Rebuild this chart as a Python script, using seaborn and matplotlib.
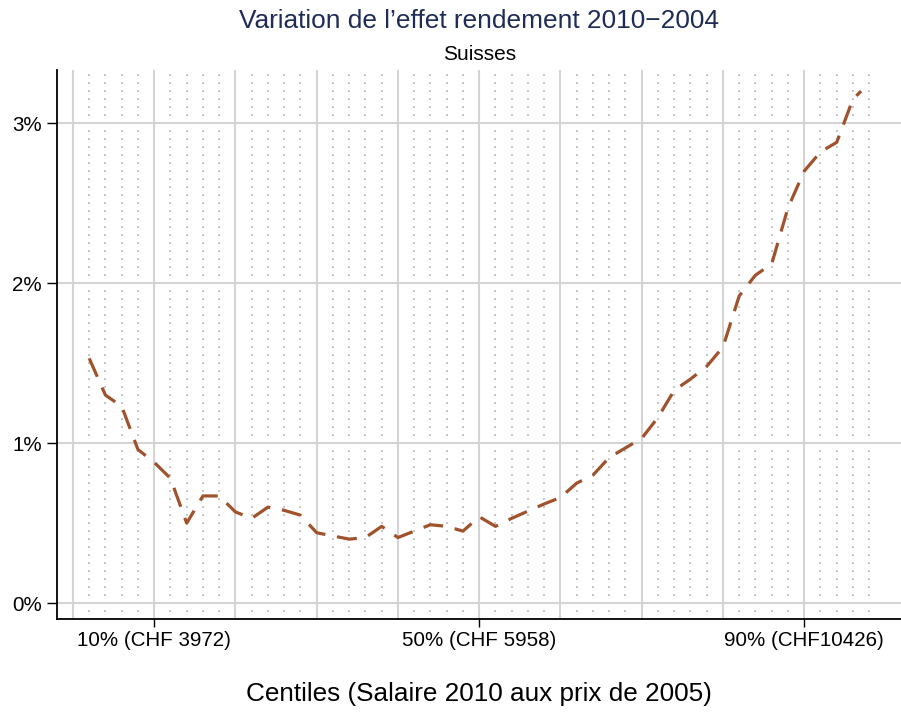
import numpy as np
import pandas as pd
import matplotlib
matplotlib.use("Agg")
import matplotlib.pyplot as plt
import seaborn as sns

# ---- data ----
centiles = [2, 4, 6, 8, 10, 12, 14, 16, 18, 20, 22, 24, 26, 28, 30, 32, 34, 36, 38, 40,
            42, 44, 46, 48, 50, 52, 54, 56, 58, 60, 62, 64, 66, 68, 70, 72, 74, 76, 78, 80,
            82, 84, 86, 88, 90, 92, 94, 96, 97]
effet = [1.53, 1.30, 1.23, 0.96, 0.88, 0.78, 0.50, 0.67, 0.67, 0.57, 0.53, 0.60, 0.58, 0.55,
         0.44, 0.42, 0.40, 0.41, 0.48, 0.41, 0.45, 0.49, 0.48, 0.45, 0.54, 0.48, 0.53, 0.575,
         0.62, 0.66, 0.75, 0.80, 0.91, 0.97, 1.03, 1.16, 1.33, 1.40, 1.48, 1.60, 1.92, 2.05,
         2.12, 2.47, 2.70, 2.82, 2.88, 3.15, 3.20]
xtick_pos = [10, 50, 90]
xtick_labels = ["10% (CHF 3972)", "50% (CHF 5958)", "90% (CHF10426)"]
ytick_pos = [0, 1, 2, 3]
ytick_labels = ["0%", "1%", "2%", "3%"]

title = "Variation de l\u2019effet rendement 2010\u22122004"
subtitle = "Suisses"
xlabel = "Centiles (Salaire 2010 aux prix de 2005)"

df = pd.DataFrame({"centile": centiles, "effet": effet})

sns.set_theme(style="white")
plt.rcParams["font.family"] = ["Liberation Sans", "DejaVu Sans"]

W, H = 901, 713
fig = plt.figure(figsize=(W / 100, H / 100), dpi=100)
px_per_x = 8.125
px_per_y = 160.0
x0, x1 = -2.0, 102.0
y0, y1 = -0.101, 3.333
left_px, bottom_px = 56.7, 713 - 619.3
ax = fig.add_axes([left_px / W, bottom_px / H,
                   (x1 - x0) * px_per_x / W, (y1 - y0) * px_per_y / H])

# background dotted lattice (minor grid)
gx = np.array([c for c in range(2, 99, 2) if c % 10 != 0])
gy = np.arange(-0.05, 3.31, 0.05)
GX, GY = np.meshgrid(gx, gy)
ax.scatter(GX.ravel(), GY.ravel(), s=1.0, marker="s", color="#c6c6c6",
           linewidths=0, zorder=0.5)

# major grid
for xv in range(0, 91, 10):
    ax.axvline(xv, color="#d4d4d4", lw=1.5, zorder=0.6)
for yv in ytick_pos:
    ax.axhline(yv, color="#d4d4d4", lw=1.5, zorder=0.6)

sns.lineplot(data=df, x="centile", y="effet", ax=ax, color="#A0522D", lw=2.3,
             linestyle=(0, (6.3, 3.7)), zorder=3)

ax.set_xlim(x0, x1)
ax.set_ylim(y0, y1)
ax.set_xticks(xtick_pos)
ax.set_xticklabels(xtick_labels, fontsize=14.8)
ax.set_yticks(ytick_pos)
ax.set_yticklabels(ytick_labels, fontsize=14.8)
ax.tick_params(axis="x", direction="out", length=5.5, width=1.0, pad=3, colors="black",
               bottom=True)
ax.tick_params(axis="y", direction="out", length=7.2, width=1.0, pad=3.6, colors="black",
               left=True)
ax.set_xlabel("")
ax.set_ylabel("")
ax.grid(False)
for s in ["top", "right"]:
    ax.spines[s].set_visible(False)
for s in ["left", "bottom"]:
    ax.spines[s].set_color("black")
    ax.spines[s].set_linewidth(1.3)

cx = (left_px + (x1 - x0) * px_per_x / 2) / W
fig.text(cx, 1 - 28 / H, title, ha="center", va="baseline", fontsize=18.9, color="#1e2c57")
fig.text(cx, 1 - 60 / H, subtitle, ha="center", va="baseline", fontsize=15, color="black")
fig.text(cx, 1 - 701 / H, xlabel, ha="center", va="baseline", fontsize=18.8, color="black")

fig.savefig("out.png", dpi=100)
